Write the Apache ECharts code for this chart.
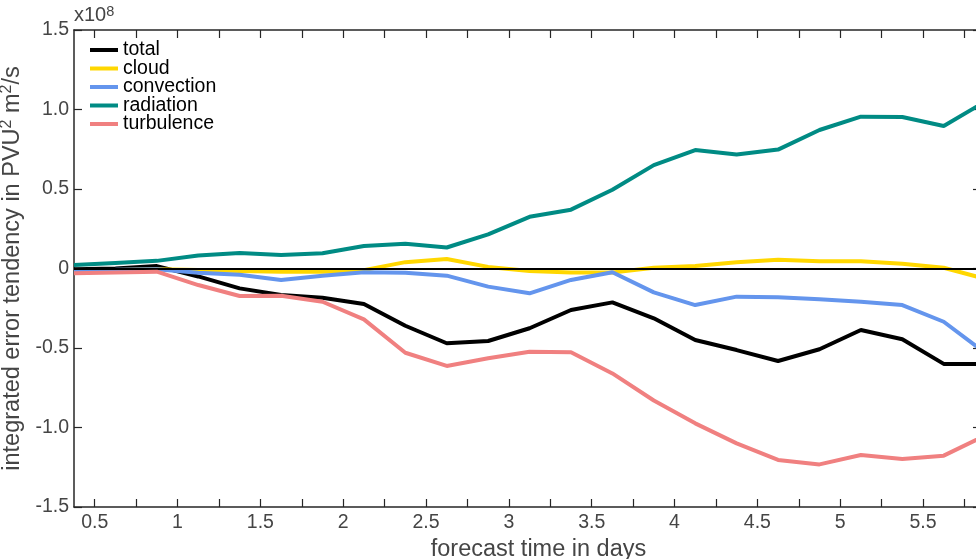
<!DOCTYPE html>
<html>
<head>
<meta charset="utf-8">
<script src="https://cdn.jsdelivr.net/npm/echarts@6/dist/echarts.min.js"></script>
<style>
  html, body { margin: 0; padding: 0; background: #fff; }
  #chart { width: 976px; height: 559px; }
</style>
</head>
<body>
<div id="chart"></div>
<script>
// forecast time (days) of each sample
const days = [0.375, 0.625, 0.875, 1.125, 1.375, 1.625, 1.875, 2.125, 2.375, 2.625, 2.875, 3.125,
  3.375, 3.625, 3.875, 4.125, 4.375, 4.625, 4.875, 5.125, 5.375, 5.625, 5.875];

// integrated error tendency, units of 1e8 PVU^2 m^2/s
const total = [-0.005, 0.0, 0.015, -0.05, -0.125, -0.167, -0.184, -0.223, -0.36, -0.47, -0.456, -0.376,
  -0.261, -0.213, -0.313, -0.45, -0.513, -0.582, -0.508, -0.387, -0.445, -0.6, -0.6];
const cloud = [-0.01, -0.01, -0.005, -0.01, -0.015, -0.02, -0.02, -0.01, 0.04, 0.06, 0.01, -0.015,
  -0.025, -0.025, 0.005, 0.015, 0.04, 0.055, 0.045, 0.045, 0.03, 0.005, -0.065];
const convection = [-0.01, -0.008, -0.005, -0.026, -0.04, -0.072, -0.045, -0.024, -0.026, -0.045, -0.114, -0.156,
  -0.072, -0.024, -0.15, -0.23, -0.177, -0.181, -0.194, -0.209, -0.23, -0.335, -0.53];
const radiation = [0.022, 0.035, 0.048, 0.082, 0.098, 0.085, 0.096, 0.142, 0.155, 0.132, 0.215, 0.325,
  0.37, 0.495, 0.65, 0.745, 0.717, 0.748, 0.871, 0.955, 0.953, 0.896, 1.05];
const turbulence = [-0.03, -0.025, -0.02, -0.104, -0.173, -0.171, -0.209, -0.32, -0.53, -0.613, -0.565, -0.523,
  -0.527, -0.66, -0.83, -0.974, -1.1, -1.204, -1.232, -1.173, -1.198, -1.177, -1.05];

const xTicks = [0.5, 0.75, 1, 1.25, 1.5, 1.75, 2, 2.25, 2.5, 2.75, 3, 3.25, 3.5, 3.75, 4, 4.25, 4.5, 4.75,
  5, 5.25, 5.5, 5.75];
const xLabels = [0.5, 1, 1.5, 2, 2.5, 3, 3.5, 4, 4.5, 5, 5.5];

const names = ['total', 'cloud', 'convection', 'radiation', 'turbulence'];
const colors = ['#000000', '#ffd700', '#6495ed', '#008b84', '#f08080'];
const values = [total, cloud, convection, radiation, turbulence];

const font = 'Liberation Sans, Arial, Helvetica, sans-serif';
const textColor = '#454545';
const axisColor = '#262626';

const chart = echarts.init(document.getElementById('chart'));

const series = names.map((n, i) => ({
  name: n,
  type: 'line',
  data: days.map((d, j) => [d, values[i][j]]),
  showSymbol: false,
  symbol: 'none',
  lineStyle: { color: colors[i], width: 4 },
  itemStyle: { color: colors[i] },
  clip: true
}));
// zero line drawn over the curves
series[series.length - 1].markLine = {
  silent: true,
  symbol: 'none',
  label: { show: false },
  lineStyle: { color: '#000', width: 2, type: 'solid' },
  data: [{ yAxis: 0 }]
};
series[series.length - 1].z = 5;

const sup = { fontFamily: font, fontSize: 16, color: textColor, verticalAlign: 'top', padding: [0, 0, 12, 0] };

chart.setOption({
  animation: false,
  grid: { left: 74, right: -5, top: 30, bottom: 52, outerBoundsMode: 'none', containLabel: false },
  legend: {
    orient: 'vertical',
    left: 90,
    top: 40,
    padding: 0,
    itemGap: -1.5,
    itemWidth: 28,
    itemHeight: 4,
    icon: 'rect',
    data: names,
    textStyle: { fontFamily: font, fontSize: 19.5, color: '#000' }
  },
  xAxis: [{
    type: 'value',
    min: 0.375,
    max: 5.85,
    position: 'bottom',
    name: 'forecast time in days',
    nameLocation: 'middle',
    nameGap: 25,
    nameTextStyle: { fontFamily: font, fontSize: 23.5, color: textColor, padding: [0, 0, 0, 22] },
    axisLine: { show: true, onZero: false, lineStyle: { color: axisColor, width: 1.5 } },
    axisTick: { show: true, inside: true, length: 8, customValues: xTicks, lineStyle: { color: axisColor, width: 1.2 } },
    axisLabel: { customValues: xLabels, margin: 6, fontFamily: font, fontSize: 19.5, color: textColor,
      formatter: v => String(v) },
    splitLine: { show: false }
  }, {
    type: 'value',
    min: 0.375,
    max: 5.85,
    position: 'top',
    axisLine: { show: true, onZero: false, lineStyle: { color: axisColor, width: 1.5 } },
    axisTick: { show: true, inside: true, length: 8, customValues: xTicks, lineStyle: { color: axisColor, width: 1.2 } },
    axisLabel: { show: false },
    splitLine: { show: false }
  }],
  yAxis: [{
    type: 'value',
    min: -1.5,
    max: 1.5,
    interval: 0.5,
    position: 'left',
    name: 'integrated error tendency in PVU{s|2} m{s|2}/s',
    nameLocation: 'middle',
    nameRotate: 90,
    nameGap: 33,
    nameTextStyle: { fontFamily: font, fontSize: 23.5, color: textColor, rich: { s: sup } },
    axisLine: { show: true, onZero: false, lineStyle: { color: axisColor, width: 1.5 } },
    axisTick: { show: true, inside: true, length: 8, lineStyle: { color: axisColor, width: 1.2 } },
    axisLabel: { margin: 5, fontFamily: font, fontSize: 19.5, color: textColor,
      formatter: v => (v === 0 ? '0' : v.toFixed(1)) },
    splitLine: { show: false }
  }, {
    type: 'value',
    min: -1.5,
    max: 1.5,
    interval: 0.5,
    position: 'right',
    axisLine: { show: true, onZero: false, lineStyle: { color: axisColor, width: 1.5 } },
    axisTick: { show: true, inside: true, length: 8, lineStyle: { color: axisColor, width: 1.2 } },
    axisLabel: { show: false },
    splitLine: { show: false }
  }],
  graphic: [{
    type: 'text',
    left: 74,
    top: 4,
    style: {
      text: 'x10{s|8}',
      fontFamily: font,
      fontSize: 20,
      fill: textColor,
      rich: { s: { fontFamily: font, fontSize: 14.5, fill: textColor, verticalAlign: 'top', padding: [0, 0, 8, 0] } }
    }
  }],
  series: series
});
</script>
</body>
</html>
